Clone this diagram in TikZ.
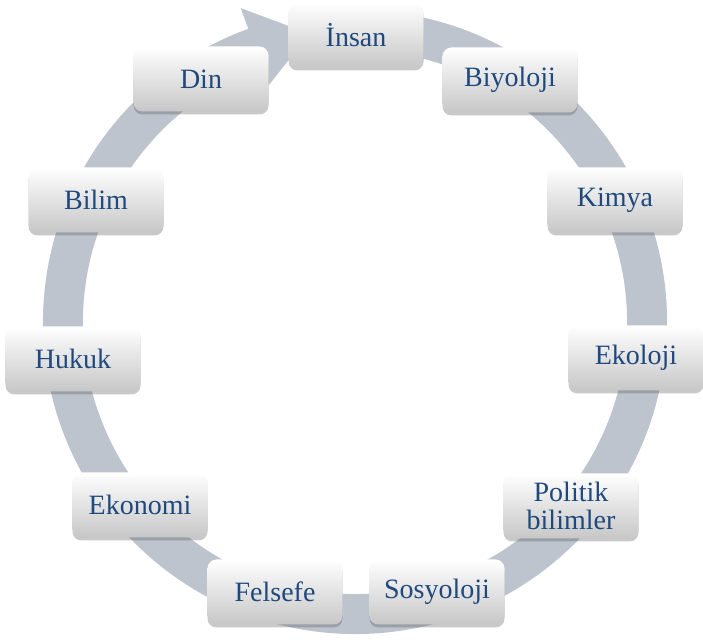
\documentclass[tikz,border=0pt]{standalone}
\usepackage{fontspec}
\setmainfont{Liberation Serif}
\usetikzlibrary{shadows}
\definecolor{ringgray}{RGB}{190,196,206}
\definecolor{textblue}{RGB}{31,73,125}

\begin{document}
\begin{tikzpicture}[x=1pt,y=1pt]
	\useasboundingbox (0,0) rectangle (703,644);
	
	\begin{scope}[shift={(355,322)}]
		% ring with arrow head
		\fill[ringgray] (80:312) arc[start angle=80,end angle=-250,radius=312]
			-- (-250:334) -- (-261:292) -- (-250:252) -- (-250:272)
			arc[start angle=-250,end angle=80,radius=272] -- cycle;
	\end{scope}
	
	\begin{scope}[every node/.style={rounded corners=9pt,minimum width=135pt,minimum height=65pt,
			top color=white,bottom color=black!22,
			drop shadow={shadow xshift=0pt,shadow yshift=-3pt,opacity=0.3,fill=black!70},
			text=textblue,font=\fontsize{28}{28}\selectfont,align=center}]
		\node (insan) at (356,609) {İnsan};
		\node (biyoloji) at (510,564) {Biyoloji};
		\node (kimya) at (615,444) {Kimya};
		\node (ekoloji) at (636,286) {Ekoloji};
		\node (politik) at (571,138) {Politik\\bilimler};
		\node (sosyoloji) at (437,52) {Sosyoloji};
		\node (felsefe) at (275,52) {Felsefe};
		\node (ekonomi) at (140,139) {Ekonomi};
		\node (hukuk) at (73,285) {Hukuk};
		\node (bilim) at (96,444) {Bilim};
		\node (din) at (201,565) {Din};
	\end{scope}
\end{tikzpicture}
\end{document}
